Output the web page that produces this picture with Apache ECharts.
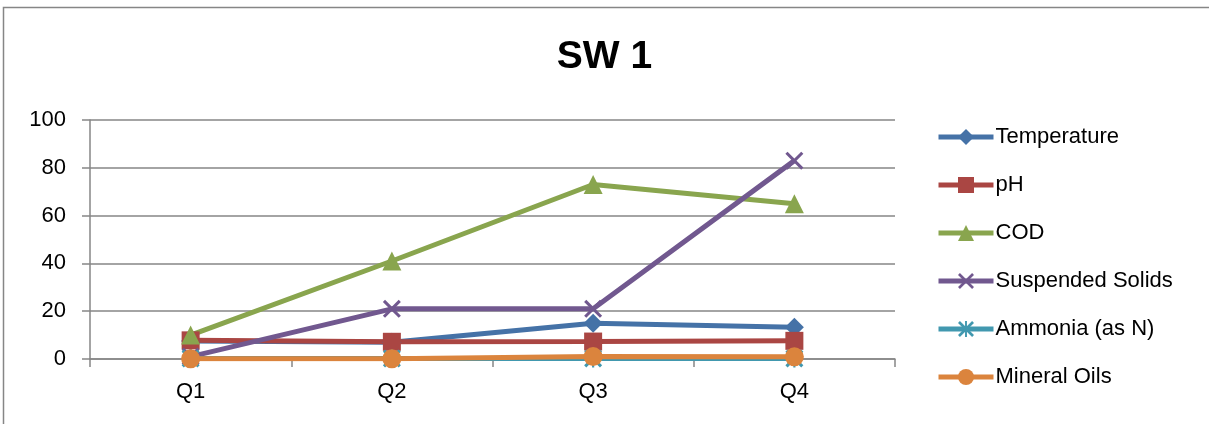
<!DOCTYPE html>
<html><head><meta charset="utf-8">
<script src="https://cdn.jsdelivr.net/npm/echarts@6/dist/echarts.min.js"></script>
<style>html,body{margin:0;padding:0;background:#fff}#c{width:1209px;height:424px}</style>
</head><body><div id="c"></div>
<script>
const categories = ['Q1', 'Q2', 'Q3', 'Q4'];
const temperature = [7.5, 7.0, 15.0, 13.3];
const ph = [7.8, 7.2, 7.3, 7.6];
const cod = [10.0, 41.0, 73.0, 65.0];
const suspendedSolids = [1.0, 21.0, 21.0, 83.0];
const ammonia = [0.2, 0.2, 0.2, 0.2];
const mineralOils = [0.1, 0.1, 1.0, 0.9];
const yTicks = [0, 20, 40, 60, 80, 100];

const FONT = '"Liberation Sans", Arial, sans-serif';
const xPath = 'path://M0,1.2L1.2,0L10,8.8L8.8,10Z M8.8,0L10,1.2L1.2,10L0,8.8Z';
const starPath = 'path://M0,1.2L1.2,0L10,8.8L8.8,10Z M8.8,0L10,1.2L1.2,10L0,8.8Z M4.4,0L5.6,0L5.6,10L4.4,10Z';

function mk(name, data, color, symbol, size) {
  return {
    name, type: 'line', data, symbol, symbolSize: size, showAllSymbol: true,
    lineStyle: { color, width: 5 }, itemStyle: { color, borderWidth: 0 },
    emphasis: { disabled: true }, animation: false
  };
}

const chart = echarts.init(document.getElementById('c'), null, { renderer: 'canvas' });
chart.setOption({
  backgroundColor: '#fff',
  animation: false,
  graphic: [{ type: 'rect', shape: { x: 3.5, y: 7.5, width: 1220, height: 430 }, style: { fill: 'none', stroke: '#868686', lineWidth: 1.5 }, silent: true }],
  title: { text: 'SW 1', left: 'center', top: 33, textStyle: { fontFamily: FONT, fontSize: 39, fontWeight: 'bold', color: '#000' } },
  legend: {
    orient: 'vertical', left: 931, top: 121, itemWidth: 55, itemHeight: 20, itemGap: 26,
    lineStyle: { width: 5 },
    textStyle: { fontFamily: FONT, fontSize: 22, color: '#000', padding: [0, 0, 0, -3] },
    data: ['Temperature', 'pH', 'COD', 'Suspended Solids', 'Ammonia (as N)', 'Mineral Oils']
  },
  grid: { left: 90, right: 314, top: 120, bottom: 65, containLabel: false },
  xAxis: {
    type: 'category', data: categories, boundaryGap: true,
    axisLine: { lineStyle: { color: '#868686', width: 1.5 } },
    axisTick: { show: true, length: 8, lineStyle: { color: '#868686', width: 1.5 } },
    axisLabel: { fontFamily: FONT, fontSize: 22, color: '#000', margin: 22 }
  },
  yAxis: {
    type: 'value', min: 0, max: 100, interval: 20,
    axisLine: { show: true, lineStyle: { color: '#868686', width: 1.5 } },
    axisTick: { show: true, length: 8, lineStyle: { color: '#868686', width: 1.5 } },
    splitLine: { lineStyle: { color: '#868686', width: 1.5 } },
    axisLabel: { fontFamily: FONT, fontSize: 22, color: '#000', margin: 24,
      formatter: v => yTicks.includes(v) ? String(v) : '' }
  },
  series: [
    mk('Temperature', temperature, '#4572A7', 'diamond', 19),
    mk('pH', ph, '#AA4643', 'rect', 18),
    mk('COD', cod, '#89A54E', 'triangle', 19),
    mk('Suspended Solids', suspendedSolids, '#71588F', xPath, 18),
    mk('Ammonia (as N)', ammonia, '#4198AF', starPath, 18),
    mk('Mineral Oils', mineralOils, '#DB843D', 'circle', 19)
  ]
});
</script></body></html>
